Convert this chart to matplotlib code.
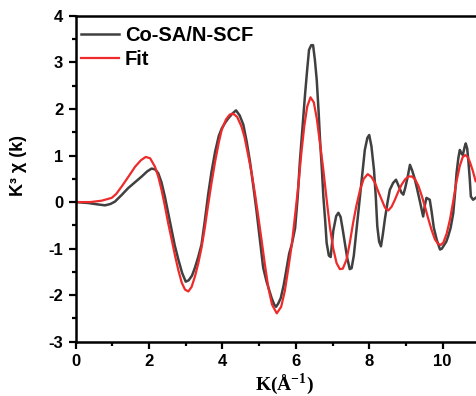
import numpy as np
import matplotlib
matplotlib.use("Agg")
import matplotlib.pyplot as plt
from matplotlib.ticker import MultipleLocator

# ── data ──────────────────────────────────────────────────────────────────────

k_exp = [0.0, 0.34, 0.6, 0.8, 0.95, 1.07, 1.25, 1.43, 1.62, 1.8, 1.95, 2.07,
         2.17, 2.25, 2.34, 2.43, 2.52, 2.61, 2.7, 2.8, 2.9, 3.0, 3.08, 3.17,
         3.25, 3.34, 3.43, 3.52, 3.61, 3.7, 3.8, 3.9, 3.98, 4.07, 4.16, 4.27,
         4.37, 4.47, 4.57, 4.66, 4.75, 4.84, 4.93, 5.02, 5.11, 5.2, 5.27,
         5.34, 5.41, 5.46, 5.52, 5.59, 5.67, 5.75, 5.82, 5.89, 5.98, 6.05,
         6.11, 6.18, 6.25, 6.31, 6.36, 6.42, 6.47, 6.52, 6.57, 6.62, 6.66,
         6.71, 6.75, 6.8, 6.84, 6.9, 6.95, 7.02, 7.1, 7.16, 7.22, 7.28, 7.34,
         7.4, 7.47, 7.52, 7.58, 7.64, 7.7, 7.75, 7.82, 7.88, 7.95, 8.0, 8.06,
         8.13, 8.18, 8.22, 8.27, 8.32, 8.37, 8.43, 8.5, 8.56, 8.65, 8.73, 8.8,
         8.88, 8.93, 8.98, 9.05, 9.11, 9.17, 9.24, 9.3, 9.38, 9.47, 9.52,
         9.56, 9.65, 9.7, 9.76, 9.84, 9.93, 9.98, 10.02, 10.1, 10.15, 10.22,
         10.29, 10.34, 10.38, 10.43, 10.47, 10.51, 10.55, 10.6, 10.63, 10.67,
         10.7, 10.74, 10.77, 10.83, 10.9]
chi_exp = [0.0, -0.02, -0.05, -0.07, -0.04, 0.01, 0.15, 0.3, 0.43, 0.55, 0.66,
           0.72, 0.7, 0.62, 0.42, 0.12, -0.23, -0.59, -0.93, -1.24, -1.52,
           -1.71, -1.68, -1.58, -1.41, -1.18, -0.91, -0.4, 0.16, 0.64, 1.08,
           1.42, 1.58, 1.7, 1.8, 1.9, 1.97, 1.86, 1.66, 1.3, 0.87, 0.35, -0.2,
           -0.8, -1.41, -1.7, -1.88, -2.06, -2.2, -2.25, -2.18, -2.06, -1.78,
           -1.41, -1.1, -0.91, -0.56, 0.1, 0.87, 1.6, 2.3, 2.85, 3.27, 3.37,
           3.37, 3.05, 2.62, 1.95, 1.33, 0.7, 0.12, -0.4, -0.88, -1.15, -1.18,
           -0.62, -0.3, -0.23, -0.32, -0.6, -0.9, -1.2, -1.44, -1.42, -1.15,
           -0.7, -0.25, 0.12, 0.65, 1.12, 1.38, 1.44, 1.2, 0.69, 0.1, -0.52,
           -0.85, -0.95, -0.7, -0.35, 0.0, 0.26, 0.41, 0.48, 0.35, 0.2, 0.16,
           0.3, 0.55, 0.8, 0.68, 0.5, 0.3, 0.02, -0.31, -0.05, 0.09, 0.05,
           -0.2, -0.55, -0.81, -1.02, -1.0, -0.95, -0.85, -0.74, -0.55, -0.24,
           0.2, 0.62, 0.95, 1.12, 1.05, 1.01, 1.18, 1.26, 1.15, 0.91, 0.5,
           0.12, 0.05, 0.09]

k_fit = [0.0, 0.4, 0.71, 0.98, 1.1, 1.25, 1.45, 1.62, 1.78, 1.91, 2.03, 2.16,
         2.25, 2.34, 2.43, 2.52, 2.62, 2.71, 2.8, 2.89, 2.98, 3.07, 3.16,
         3.25, 3.34, 3.43, 3.52, 3.61, 3.7, 3.8, 3.9, 3.98, 4.1, 4.2, 4.29,
         4.4, 4.52, 4.6, 4.7, 4.8, 4.89, 4.98, 5.07, 5.16, 5.25, 5.35, 5.48,
         5.6, 5.7, 5.8, 5.89, 5.98, 6.07, 6.15, 6.23, 6.31, 6.4, 6.49, 6.57,
         6.66, 6.75, 6.84, 6.93, 7.02, 7.11, 7.2, 7.28, 7.38, 7.47, 7.56,
         7.65, 7.75, 7.85, 7.96, 8.06, 8.16, 8.25, 8.34, 8.43, 8.52, 8.61,
         8.7, 8.79, 8.88, 8.98, 9.07, 9.16, 9.25, 9.34, 9.43, 9.52, 9.61, 9.7,
         9.79, 9.88, 9.95, 10.02, 10.11, 10.2, 10.29, 10.38, 10.47, 10.55,
         10.62, 10.68, 10.74, 10.82, 10.9]
chi_fit = [0.0, 0.0, 0.03, 0.09, 0.17, 0.33, 0.56, 0.76, 0.9, 0.97, 0.94, 0.76,
           0.55, 0.26, -0.08, -0.45, -0.82, -1.16, -1.47, -1.73, -1.88, -1.92,
           -1.82, -1.6, -1.32, -0.98, -0.55, -0.06, 0.4, 0.87, 1.28, 1.55,
           1.78, 1.88, 1.9, 1.83, 1.62, 1.4, 1.01, 0.6, 0.16, -0.33, -0.84,
           -1.36, -1.84, -2.2, -2.39, -2.25, -1.91, -1.4, -0.91, -0.28, 0.37,
           1.05, 1.63, 2.05, 2.25, 2.14, 1.8, 1.25, 0.69, 0.05, -0.55, -1.0,
           -1.31, -1.44, -1.43, -1.24, -0.88, -0.45, -0.08, 0.26, 0.5, 0.6,
           0.54, 0.41, 0.22, 0.05, -0.12, -0.18, -0.1, 0.05, 0.22, 0.37, 0.49,
           0.55, 0.55, 0.49, 0.35, 0.14, -0.1, -0.36, -0.6, -0.8, -0.9, -0.92,
           -0.87, -0.68, -0.38, 0.02, 0.45, 0.78, 0.97, 1.01, 0.97, 0.87, 0.68,
           0.45]

SERIES_LABELS = ["Co-SA/N-SCF", "Fit"]
X_TICKS = [0, 2, 4, 6, 8, 10]

# ── style ─────────────────────────────────────────────────────────────────────

plt.rcParams["font.family"] = "Liberation Sans"
plt.rcParams["font.weight"] = "bold"
plt.rcParams["axes.unicode_minus"] = False
plt.rcParams["mathtext.fontset"] = "custom"
plt.rcParams["mathtext.rm"] = "Liberation Serif:bold"
plt.rcParams["mathtext.bf"] = "Liberation Serif:bold"

fig = plt.figure(figsize=(4.76, 3.96), dpi=100)
# axes runs past the right edge of the figure, as in the cropped original
ax = fig.add_axes([0.159, 0.137, 0.925, 0.823])

ax.plot(k_exp, chi_exp, color="#404040", linewidth=1.8, label=SERIES_LABELS[0])
ax.plot(k_fit, chi_fit, color="#ee2a2a", linewidth=1.6, label=SERIES_LABELS[1])

ax.set_xlim(0, 12)
ax.set_ylim(-3, 4)
ax.set_xticks(X_TICKS)
ax.xaxis.set_minor_locator(MultipleLocator(1))
ax.yaxis.set_major_locator(MultipleLocator(1))
ax.yaxis.set_minor_locator(MultipleLocator(0.5))

ax.tick_params(which="both", direction="out", top=False, right=False,
               width=1.6, labelsize=12)
ax.tick_params(which="major", length=5, pad=4)
ax.tick_params(which="minor", length=3)
for lab in ax.get_xticklabels() + ax.get_yticklabels():
    lab.set_fontweight("bold")

for side in ["left", "bottom", "top"]:
    ax.spines[side].set_linewidth(1.8)
ax.spines["right"].set_visible(False)

ax.set_ylabel("K³ χ (k)", fontsize=13, fontweight="bold")
ax.yaxis.set_label_coords(-0.11, 0.54)
ax.set_xlabel(r"K(Å$^{\mathbf{-1}}$)", fontsize=14, fontweight="bold",
              family="Liberation Serif")
ax.xaxis.set_label_coords(0.475, -0.09)

leg = ax.legend(loc="upper left", frameon=False, fontsize=14.5,
                handlelength=1.9, handletextpad=0.3, labelspacing=0.25,
                borderpad=0.1, borderaxespad=0.15, bbox_to_anchor=(0.0, 0.985))
for t in leg.get_texts():
    t.set_fontweight("bold")

fig.savefig("out.png", dpi=100)
